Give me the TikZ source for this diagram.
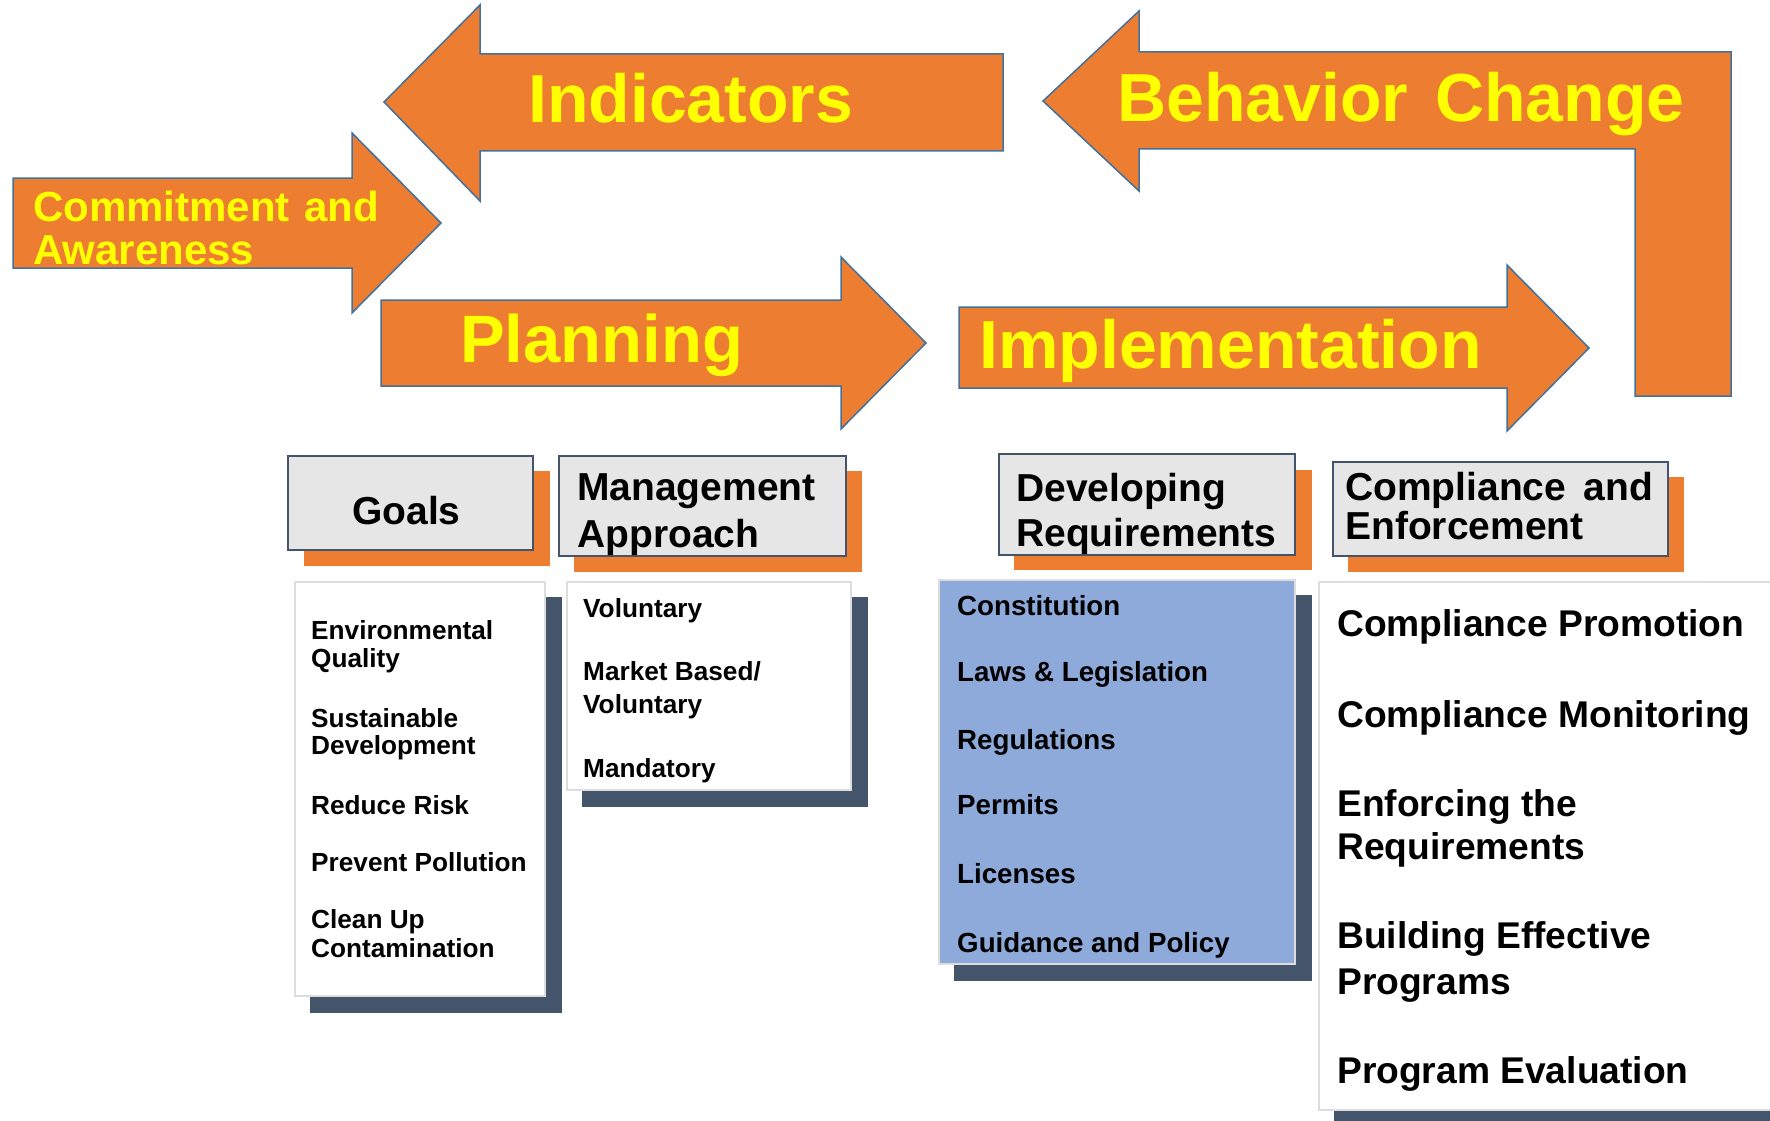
\documentclass[tikz,border=0pt]{standalone}
\usepackage{fontspec}
\setmainfont{Liberation Sans}
\definecolor{arrorange}{HTML}{ED7D31}
\definecolor{arrblue}{HTML}{41719C}
\definecolor{arryellow}{HTML}{FFFF00}
\definecolor{hdrgray}{HTML}{E7E6E6}
\definecolor{slate}{HTML}{44546A}
\definecolor{lightedge}{HTML}{DDDDDD}
\definecolor{listblue}{HTML}{8EAADB}
\tikzset{
  arrowshape/.style={fill=arrorange, draw=arrblue, line width=1.5pt, line join=miter},
  bigtxt/.style={anchor=base west, inner sep=0pt, text=arryellow, font=\fontsize{68}{68}\selectfont\bfseries},
  midtxt/.style={anchor=base west, inner sep=0pt, text=arryellow, font=\fontsize{42}{42}\selectfont\bfseries},
  hdrbox/.style={fill=hdrgray, draw=slate, line width=2pt},
  orangeshadow/.style={fill=arrorange},
  darkshadow/.style={fill=slate},
  listbox/.style={fill=white, draw=lightedge, line width=2.5pt},
  bluebox/.style={fill=listblue, draw=lightedge, line width=2.5pt},
  hdrtxt/.style={anchor=base west, inner sep=0pt, text=black, font=\fontsize{39}{39}\selectfont\bfseries},
  smalltxt/.style={anchor=base west, inner sep=0pt, text=black, font=\fontsize{26.2}{26.2}\selectfont\bfseries},
  bluetxt/.style={anchor=base west, inner sep=0pt, text=black, font=\fontsize{27.7}{27.7}\selectfont\bfseries},
  bigitem/.style={anchor=base west, inner sep=0pt, text=black, font=\fontsize{37.2}{37.2}\selectfont\bfseries}
}
\begin{document}
\begin{tikzpicture}[x=1pt,y=-1pt]
\useasboundingbox (0,0) rectangle (1770,1121);
\clip (0,0) rectangle (1770,1121);
\fill[white] (0,0) rectangle (1770,1121);

% ---------- arrows ----------
\draw[arrowshape] (384,102) -- (480,5) -- (480,54) -- (1003,54) -- (1003,151) -- (480,151) -- (480,201) -- cycle;
\draw[arrowshape] (13,178) -- (352,178) -- (352,133) -- (441,223) -- (352,313) -- (352,268) -- (13,268) -- cycle;
\draw[arrowshape] (381,300) -- (841,300) -- (841,257) -- (926,343) -- (841,429) -- (841,386) -- (381,386) -- cycle;
\draw[arrowshape] (959,307) -- (1507,307) -- (1507,265) -- (1589,348) -- (1507,431) -- (1507,388) -- (959,388) -- cycle;
\draw[arrowshape] (1043,101) -- (1139,11) -- (1139,52) -- (1731,52) -- (1731,396) -- (1635,396) -- (1635,149) -- (1139,149) -- (1139,191) -- cycle;

\node[bigtxt] (indicators) at (528,123) {Indicators};
\node[bigtxt] (behavior) at (1117,122) {Behavior\hspace{0.4em}Change};
\node[bigtxt, font=\fontsize{67}{67}\selectfont\bfseries] (planning) at (460,362) {Planning};
\node[bigtxt] (implementation) at (979,368) {Implementation};
\node[midtxt] (commit1) at (33,221) {Commitment\hspace{0.35em}and};
\node[midtxt] (commit2) at (33,264) {Awareness};

% ---------- header boxes ----------
\fill[orangeshadow] (304,471) rectangle (550,566);
\draw[hdrbox] (288,456) rectangle (533,550);
\node[hdrtxt] (goals) at (352,524) {Goals};

\fill[orangeshadow] (574,471) rectangle (862,572);
\draw[hdrbox] (559,456) rectangle (846,556);
\node[hdrtxt] (mgmt1) at (577,500) {Management};
\node[hdrtxt] (mgmt2) at (577,547) {Approach};

\fill[orangeshadow] (1014,470) rectangle (1312,570);
\draw[hdrbox] (999,454) rectangle (1295,555);
\node[hdrtxt] (dev1) at (1016,501) {Developing};
\node[hdrtxt] (dev2) at (1016,546) {Requirements};

\fill[orangeshadow] (1348,477) rectangle (1684,572);
\draw[hdrbox] (1333,462) rectangle (1668,556);
\node[hdrtxt] (comp1) at (1345,500) {Compliance\hspace{0.45em}and};
\node[hdrtxt] (comp2) at (1345,539) {Enforcement};

% ---------- list boxes ----------
\fill[darkshadow] (310,597) rectangle (562,1013);
\draw[listbox] (295,582) rectangle (545,996);
\node[smalltxt] (g1) at (311,639) {Environmental};
\node[smalltxt] (g2) at (311,667) {Quality};
\node[smalltxt] (g3) at (311,727) {Sustainable};
\node[smalltxt] (g4) at (311,754) {Development};
\node[smalltxt] (g5) at (311,814) {Reduce\hspace{0.3em}Risk};
\node[smalltxt] (g6) at (311,871) {Prevent Pollution};
\node[smalltxt] (g7) at (311,928) {Clean Up};
\node[smalltxt] (g8) at (311,957) {Contamination};

\fill[darkshadow] (582,597) rectangle (868,807);
\draw[listbox] (567,582) rectangle (851,790);
\node[smalltxt] (m1) at (583,617) {Voluntary};
\node[smalltxt] (m2) at (583,680) {Market Based/};
\node[smalltxt] (m3) at (583,713) {Voluntary};
\node[smalltxt] (m4) at (583,777) {Mandatory};

\fill[darkshadow] (954,595) rectangle (1312,981);
\draw[bluebox] (939,580) rectangle (1295,964);
\node[bluetxt] (d1) at (957,615) {Constitution};
\node[bluetxt] (d2) at (957,681) {Laws \& Legislation};
\node[bluetxt] (d3) at (957,749) {Regulations};
\node[bluetxt] (d4) at (957,814) {Permits};
\node[bluetxt] (d5) at (957,883) {Licenses};
\node[bluetxt] (d6) at (957,952) {Guidance and Policy};

\fill[darkshadow] (1334,597) rectangle (1790,1140);
\draw[listbox] (1319,582) rectangle (1790,1110);
\node[bigitem] (c1) at (1337,636) {Compliance Promotion};
\node[bigitem] (c2) at (1337,727) {Compliance Monitoring};
\node[bigitem] (c3) at (1337,816) {Enforcing the};
\node[bigitem] (c4) at (1337,859) {Requirements};
\node[bigitem] (c5) at (1337,948) {Building Effective};
\node[bigitem] (c6) at (1337,994) {Programs};
\node[bigitem] (c7) at (1337,1083) {Program Evaluation};
\end{tikzpicture}
\end{document}
